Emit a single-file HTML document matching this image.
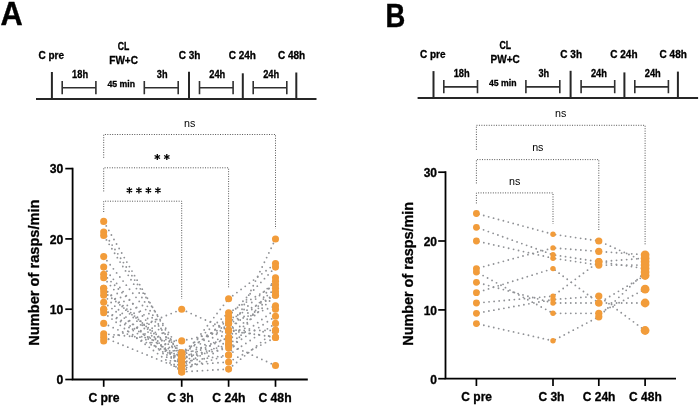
<!DOCTYPE html>
<html><head><meta charset="utf-8"><title>Figure</title>
<style>
html,body{margin:0;padding:0;background:#fff;}
body{width:700px;height:406px;overflow:hidden;font-family:"Liberation Sans",sans-serif;}
svg{display:block;font-family:"Liberation Sans",sans-serif;opacity:0.999;will-change:transform;}
</style></head><body>
<svg width="700" height="406" viewBox="0 0 700 406">
<rect width="700" height="406" fill="#fff"/>
<text x="0.6" y="25.1" font-size="32.6" font-weight="bold" text-anchor="start" fill="#000" textLength="22.2" lengthAdjust="spacingAndGlyphs" stroke="#000" stroke-width="0.4">A</text>
<text x="385.6" y="27.1" font-size="32.3" font-weight="bold" text-anchor="start" fill="#000" textLength="19.8" lengthAdjust="spacingAndGlyphs" stroke="#000" stroke-width="0.4">B</text>
<line x1="36" y1="99.00" x2="316.5" y2="99.00" stroke="#262626" stroke-width="2.0"/>
<line x1="51.90" y1="72.00" x2="51.90" y2="99.00" stroke="#262626" stroke-width="2.0"/>
<line x1="189.00" y1="71.70" x2="189.00" y2="99.00" stroke="#262626" stroke-width="2.0"/>
<line x1="242.80" y1="73.30" x2="242.80" y2="99.00" stroke="#262626" stroke-width="2.0"/>
<line x1="296.30" y1="72.50" x2="296.30" y2="99.00" stroke="#262626" stroke-width="2.0"/>
<path d="M62.20 80.90V94.20 M62.20 87.80H95.90 M95.90 80.90V94.20" stroke="#303030" stroke-width="1.6" fill="none"/>
<path d="M144.30 80.90V94.20 M144.30 87.80H178.20 M178.20 80.90V94.20" stroke="#303030" stroke-width="1.6" fill="none"/>
<path d="M199.50 80.90V94.20 M199.50 87.80H233.10 M233.10 80.90V94.20" stroke="#303030" stroke-width="1.6" fill="none"/>
<path d="M253.20 80.90V94.20 M253.20 87.80H286.80 M286.80 80.90V94.20" stroke="#303030" stroke-width="1.6" fill="none"/>
<g stroke="#000" stroke-width="0.3">
<text x="51.2" y="59.1" font-size="10" font-weight="bold" text-anchor="middle" fill="#000">C pre</text>
<text x="123.6" y="49.7" font-size="10" font-weight="bold" text-anchor="middle" fill="#000" textLength="11.6" lengthAdjust="spacingAndGlyphs">CL</text>
<text x="123.6" y="64.2" font-size="10" font-weight="bold" text-anchor="middle" fill="#000">FW+C</text>
<text x="189.6" y="59.1" font-size="10" font-weight="bold" text-anchor="middle" fill="#000">C 3h</text>
<text x="242.3" y="59.1" font-size="10" font-weight="bold" text-anchor="middle" fill="#000">C 24h</text>
<text x="291.6" y="59.1" font-size="10" font-weight="bold" text-anchor="middle" fill="#000">C 48h</text>
<text x="80.1" y="77.6" font-size="10.0" font-weight="bold" text-anchor="middle" fill="#000" textLength="16.0" lengthAdjust="spacingAndGlyphs">18h</text>
<text x="121.2" y="87.1" font-size="9.2" font-weight="bold" text-anchor="middle" fill="#000" textLength="27.6" lengthAdjust="spacingAndGlyphs">45 min</text>
<text x="162.2" y="77.6" font-size="10.0" font-weight="bold" text-anchor="middle" fill="#000" textLength="10.7" lengthAdjust="spacingAndGlyphs">3h</text>
<text x="217.3" y="77.6" font-size="10.0" font-weight="bold" text-anchor="middle" fill="#000" textLength="16.0" lengthAdjust="spacingAndGlyphs">24h</text>
<text x="271.2" y="77.6" font-size="10.0" font-weight="bold" text-anchor="middle" fill="#000" textLength="16.0" lengthAdjust="spacingAndGlyphs">24h</text>
</g>
<line x1="417.6" y1="98.10" x2="698.1" y2="98.10" stroke="#262626" stroke-width="2.0"/>
<line x1="433.50" y1="71.10" x2="433.50" y2="98.10" stroke="#262626" stroke-width="2.0"/>
<line x1="570.60" y1="70.80" x2="570.60" y2="98.10" stroke="#262626" stroke-width="2.0"/>
<line x1="624.40" y1="72.40" x2="624.40" y2="98.10" stroke="#262626" stroke-width="2.0"/>
<line x1="677.90" y1="71.60" x2="677.90" y2="98.10" stroke="#262626" stroke-width="2.0"/>
<path d="M443.80 80.00V93.30 M443.80 86.90H477.50 M477.50 80.00V93.30" stroke="#303030" stroke-width="1.6" fill="none"/>
<path d="M525.90 80.00V93.30 M525.90 86.90H559.80 M559.80 80.00V93.30" stroke="#303030" stroke-width="1.6" fill="none"/>
<path d="M581.10 80.00V93.30 M581.10 86.90H614.70 M614.70 80.00V93.30" stroke="#303030" stroke-width="1.6" fill="none"/>
<path d="M634.80 80.00V93.30 M634.80 86.90H668.40 M668.40 80.00V93.30" stroke="#303030" stroke-width="1.6" fill="none"/>
<g stroke="#000" stroke-width="0.3">
<text x="432.8" y="58.300000000000004" font-size="10" font-weight="bold" text-anchor="middle" fill="#000">C pre</text>
<text x="505.20000000000005" y="48.900000000000006" font-size="10" font-weight="bold" text-anchor="middle" fill="#000" textLength="11.6" lengthAdjust="spacingAndGlyphs">CL</text>
<text x="505.20000000000005" y="63.400000000000006" font-size="10" font-weight="bold" text-anchor="middle" fill="#000">PW+C</text>
<text x="571.2" y="58.300000000000004" font-size="10" font-weight="bold" text-anchor="middle" fill="#000">C 3h</text>
<text x="623.9000000000001" y="58.300000000000004" font-size="10" font-weight="bold" text-anchor="middle" fill="#000">C 24h</text>
<text x="673.2" y="58.300000000000004" font-size="10" font-weight="bold" text-anchor="middle" fill="#000">C 48h</text>
<text x="461.70000000000005" y="76.69999999999999" font-size="10.0" font-weight="bold" text-anchor="middle" fill="#000" textLength="16.0" lengthAdjust="spacingAndGlyphs">18h</text>
<text x="502.8" y="86.19999999999999" font-size="9.2" font-weight="bold" text-anchor="middle" fill="#000" textLength="27.6" lengthAdjust="spacingAndGlyphs">45 min</text>
<text x="543.8" y="76.69999999999999" font-size="10.0" font-weight="bold" text-anchor="middle" fill="#000" textLength="10.7" lengthAdjust="spacingAndGlyphs">3h</text>
<text x="598.9000000000001" y="76.69999999999999" font-size="10.0" font-weight="bold" text-anchor="middle" fill="#000" textLength="16.0" lengthAdjust="spacingAndGlyphs">24h</text>
<text x="652.8" y="76.69999999999999" font-size="10.0" font-weight="bold" text-anchor="middle" fill="#000" textLength="16.0" lengthAdjust="spacingAndGlyphs">24h</text>
</g>
<g stroke="#444" stroke-width="0.95" stroke-dasharray="0.95 1.5" fill="none">
<path d="M103.7 157.8V134.5H275.5V228.7"/>
<path d="M103.7 191.4V167.8H228.6V288.5"/>
<path d="M103.7 212.0V201.2H181.7V299.0"/>
</g>
<text x="189.7" y="126.8" font-size="10.7" font-weight="normal" text-anchor="middle" fill="#000">ns</text>
<path transform="translate(157.3 157.0)" d="M0 -3.1V3.1M-2.7 -1.55L2.7 1.55M-2.7 1.55L2.7 -1.55" stroke="#000" stroke-width="1.3" fill="none"/>
<path transform="translate(166.8 157.0)" d="M0 -3.1V3.1M-2.7 -1.55L2.7 1.55M-2.7 1.55L2.7 -1.55" stroke="#000" stroke-width="1.3" fill="none"/>
<path transform="translate(129.4 190.3)" d="M0 -3.1V3.1M-2.7 -1.55L2.7 1.55M-2.7 1.55L2.7 -1.55" stroke="#000" stroke-width="1.3" fill="none"/>
<path transform="translate(138.9 190.3)" d="M0 -3.1V3.1M-2.7 -1.55L2.7 1.55M-2.7 1.55L2.7 -1.55" stroke="#000" stroke-width="1.3" fill="none"/>
<path transform="translate(148.4 190.3)" d="M0 -3.1V3.1M-2.7 -1.55L2.7 1.55M-2.7 1.55L2.7 -1.55" stroke="#000" stroke-width="1.3" fill="none"/>
<path transform="translate(157.9 190.3)" d="M0 -3.1V3.1M-2.7 -1.55L2.7 1.55M-2.7 1.55L2.7 -1.55" stroke="#000" stroke-width="1.3" fill="none"/>
<g stroke="#909296" stroke-width="1.85" stroke-linecap="round" stroke-dasharray="0 5.2" stroke-dashoffset="0" fill="none">
<line x1="103.7" y1="221.4" x2="181.7" y2="358.5"/>
<line x1="181.7" y1="358.5" x2="228.6" y2="298.8"/>
<line x1="228.6" y1="298.8" x2="275.5" y2="263.6"/>
<line x1="103.7" y1="232.0" x2="181.7" y2="352.9"/>
<line x1="181.7" y1="352.9" x2="228.6" y2="312.8"/>
<line x1="228.6" y1="312.8" x2="275.5" y2="284.7"/>
<line x1="103.7" y1="235.5" x2="181.7" y2="362.0"/>
<line x1="181.7" y1="362.0" x2="228.6" y2="316.3"/>
<line x1="228.6" y1="316.3" x2="275.5" y2="267.1"/>
<line x1="103.7" y1="256.6" x2="181.7" y2="355.0"/>
<line x1="181.7" y1="355.0" x2="228.6" y2="319.8"/>
<line x1="228.6" y1="319.8" x2="275.5" y2="295.2"/>
<line x1="103.7" y1="267.1" x2="181.7" y2="365.5"/>
<line x1="181.7" y1="365.5" x2="228.6" y2="323.4"/>
<line x1="228.6" y1="323.4" x2="275.5" y2="281.2"/>
<line x1="103.7" y1="274.2" x2="181.7" y2="352.9"/>
<line x1="181.7" y1="352.9" x2="228.6" y2="323.4"/>
<line x1="228.6" y1="323.4" x2="275.5" y2="305.8"/>
<line x1="103.7" y1="277.7" x2="181.7" y2="369.1"/>
<line x1="181.7" y1="369.1" x2="228.6" y2="330.4"/>
<line x1="228.6" y1="330.4" x2="275.5" y2="288.2"/>
<line x1="103.7" y1="288.2" x2="181.7" y2="358.5"/>
<line x1="181.7" y1="358.5" x2="228.6" y2="337.4"/>
<line x1="228.6" y1="337.4" x2="275.5" y2="239.0"/>
<line x1="103.7" y1="288.2" x2="181.7" y2="365.5"/>
<line x1="181.7" y1="365.5" x2="228.6" y2="340.9"/>
<line x1="228.6" y1="340.9" x2="275.5" y2="295.2"/>
<line x1="103.7" y1="291.7" x2="181.7" y2="355.0"/>
<line x1="181.7" y1="355.0" x2="228.6" y2="337.4"/>
<line x1="228.6" y1="337.4" x2="275.5" y2="291.7"/>
<line x1="103.7" y1="295.2" x2="181.7" y2="371.9"/>
<line x1="181.7" y1="371.9" x2="228.6" y2="344.5"/>
<line x1="228.6" y1="344.5" x2="275.5" y2="309.3"/>
<line x1="103.7" y1="302.3" x2="181.7" y2="362.0"/>
<line x1="181.7" y1="362.0" x2="228.6" y2="355.0"/>
<line x1="228.6" y1="355.0" x2="275.5" y2="277.7"/>
<line x1="103.7" y1="309.3" x2="181.7" y2="358.5"/>
<line x1="181.7" y1="358.5" x2="228.6" y2="348.0"/>
<line x1="228.6" y1="348.0" x2="275.5" y2="316.3"/>
<line x1="103.7" y1="312.8" x2="181.7" y2="371.9"/>
<line x1="181.7" y1="371.9" x2="228.6" y2="369.1"/>
<line x1="228.6" y1="369.1" x2="275.5" y2="330.4"/>
<line x1="103.7" y1="323.4" x2="181.7" y2="358.5"/>
<line x1="181.7" y1="358.5" x2="228.6" y2="344.5"/>
<line x1="228.6" y1="344.5" x2="275.5" y2="365.5"/>
<line x1="103.7" y1="333.9" x2="181.7" y2="340.9"/>
<line x1="181.7" y1="340.9" x2="228.6" y2="330.4"/>
<line x1="228.6" y1="330.4" x2="275.5" y2="330.4"/>
<line x1="103.7" y1="337.4" x2="181.7" y2="369.1"/>
<line x1="181.7" y1="369.1" x2="228.6" y2="355.0"/>
<line x1="228.6" y1="355.0" x2="275.5" y2="323.4"/>
<line x1="103.7" y1="340.9" x2="181.7" y2="309.3"/>
<line x1="181.7" y1="309.3" x2="228.6" y2="330.4"/>
<line x1="228.6" y1="330.4" x2="275.5" y2="337.4"/>
<line x1="103.7" y1="309.3" x2="181.7" y2="365.5"/>
<line x1="181.7" y1="365.5" x2="228.6" y2="362.0"/>
<line x1="228.6" y1="362.0" x2="275.5" y2="337.4"/>
</g>
<g fill="#F29C3A">
<circle cx="103.7" cy="221.4" r="3.55"/>
<circle cx="181.7" cy="358.5" r="3.55"/>
<circle cx="228.6" cy="298.8" r="3.55"/>
<circle cx="275.5" cy="263.6" r="3.55"/>
<circle cx="103.7" cy="232.0" r="3.55"/>
<circle cx="181.7" cy="352.9" r="3.55"/>
<circle cx="228.6" cy="312.8" r="3.55"/>
<circle cx="275.5" cy="284.7" r="3.55"/>
<circle cx="103.7" cy="235.5" r="3.55"/>
<circle cx="181.7" cy="362.0" r="3.55"/>
<circle cx="228.6" cy="316.3" r="3.55"/>
<circle cx="275.5" cy="267.1" r="3.55"/>
<circle cx="103.7" cy="256.6" r="3.55"/>
<circle cx="181.7" cy="355.0" r="3.55"/>
<circle cx="228.6" cy="319.8" r="3.55"/>
<circle cx="275.5" cy="295.2" r="3.55"/>
<circle cx="103.7" cy="267.1" r="3.55"/>
<circle cx="181.7" cy="365.5" r="3.55"/>
<circle cx="228.6" cy="323.4" r="3.55"/>
<circle cx="275.5" cy="281.2" r="3.55"/>
<circle cx="103.7" cy="274.2" r="3.55"/>
<circle cx="181.7" cy="352.9" r="3.55"/>
<circle cx="228.6" cy="323.4" r="3.55"/>
<circle cx="275.5" cy="305.8" r="3.55"/>
<circle cx="103.7" cy="277.7" r="3.55"/>
<circle cx="181.7" cy="369.1" r="3.55"/>
<circle cx="228.6" cy="330.4" r="3.55"/>
<circle cx="275.5" cy="288.2" r="3.55"/>
<circle cx="103.7" cy="288.2" r="3.55"/>
<circle cx="181.7" cy="358.5" r="3.55"/>
<circle cx="228.6" cy="337.4" r="3.55"/>
<circle cx="275.5" cy="239.0" r="3.55"/>
<circle cx="103.7" cy="288.2" r="3.55"/>
<circle cx="181.7" cy="365.5" r="3.55"/>
<circle cx="228.6" cy="340.9" r="3.55"/>
<circle cx="275.5" cy="295.2" r="3.55"/>
<circle cx="103.7" cy="291.7" r="3.55"/>
<circle cx="181.7" cy="355.0" r="3.55"/>
<circle cx="228.6" cy="337.4" r="3.55"/>
<circle cx="275.5" cy="291.7" r="3.55"/>
<circle cx="103.7" cy="295.2" r="3.55"/>
<circle cx="181.7" cy="371.9" r="3.55"/>
<circle cx="228.6" cy="344.5" r="3.55"/>
<circle cx="275.5" cy="309.3" r="3.55"/>
<circle cx="103.7" cy="302.3" r="3.55"/>
<circle cx="181.7" cy="362.0" r="3.55"/>
<circle cx="228.6" cy="355.0" r="3.55"/>
<circle cx="275.5" cy="277.7" r="3.55"/>
<circle cx="103.7" cy="309.3" r="3.55"/>
<circle cx="181.7" cy="358.5" r="3.55"/>
<circle cx="228.6" cy="348.0" r="3.55"/>
<circle cx="275.5" cy="316.3" r="3.55"/>
<circle cx="103.7" cy="312.8" r="3.55"/>
<circle cx="181.7" cy="371.9" r="3.55"/>
<circle cx="228.6" cy="369.1" r="3.55"/>
<circle cx="275.5" cy="330.4" r="3.55"/>
<circle cx="103.7" cy="323.4" r="3.55"/>
<circle cx="181.7" cy="358.5" r="3.55"/>
<circle cx="228.6" cy="344.5" r="3.55"/>
<circle cx="275.5" cy="365.5" r="3.55"/>
<circle cx="103.7" cy="333.9" r="3.55"/>
<circle cx="181.7" cy="340.9" r="3.55"/>
<circle cx="228.6" cy="330.4" r="3.55"/>
<circle cx="275.5" cy="330.4" r="3.55"/>
<circle cx="103.7" cy="337.4" r="3.55"/>
<circle cx="181.7" cy="369.1" r="3.55"/>
<circle cx="228.6" cy="355.0" r="3.55"/>
<circle cx="275.5" cy="323.4" r="3.55"/>
<circle cx="103.7" cy="340.9" r="3.55"/>
<circle cx="181.7" cy="309.3" r="3.55"/>
<circle cx="228.6" cy="330.4" r="3.55"/>
<circle cx="275.5" cy="337.4" r="3.55"/>
<circle cx="103.7" cy="309.3" r="3.55"/>
<circle cx="181.7" cy="365.5" r="3.55"/>
<circle cx="228.6" cy="362.0" r="3.55"/>
<circle cx="275.5" cy="337.4" r="3.55"/>
</g>
<g stroke="#000" stroke-width="0.3">
<path d="M72.6 167.75V379.5H307.8" stroke="#000" stroke-width="1.8" fill="none" stroke-linejoin="miter" stroke-linecap="butt"/>
<line x1="65.3" y1="379.5" x2="72.6" y2="379.5" stroke="#000" stroke-width="1.7"/>
<text x="63.4" y="384.392" font-size="12.2" font-weight="bold" text-anchor="end" fill="#000">0</text>
<line x1="65.3" y1="309.2" x2="72.6" y2="309.2" stroke="#000" stroke-width="1.7"/>
<text x="63.4" y="314.092" font-size="12.2" font-weight="bold" text-anchor="end" fill="#000">10</text>
<line x1="65.3" y1="238.9" x2="72.6" y2="238.9" stroke="#000" stroke-width="1.7"/>
<text x="63.4" y="243.792" font-size="12.2" font-weight="bold" text-anchor="end" fill="#000">20</text>
<line x1="65.3" y1="168.6" x2="72.6" y2="168.6" stroke="#000" stroke-width="1.7"/>
<text x="63.4" y="173.492" font-size="12.2" font-weight="bold" text-anchor="end" fill="#000">30</text>
<line x1="103.7" y1="379.5" x2="103.7" y2="386.8" stroke="#000" stroke-width="1.7"/>
<text x="104.0" y="401.5" font-size="12.2" font-weight="bold" text-anchor="middle" fill="#000">C pre</text>
<line x1="181.7" y1="379.5" x2="181.7" y2="386.8" stroke="#000" stroke-width="1.7"/>
<text x="180.5" y="401.5" font-size="12.2" font-weight="bold" text-anchor="middle" fill="#000">C 3h</text>
<line x1="228.6" y1="379.5" x2="228.6" y2="386.8" stroke="#000" stroke-width="1.7"/>
<text x="228.9" y="401.5" font-size="12.2" font-weight="bold" text-anchor="middle" fill="#000">C 24h</text>
<line x1="275.5" y1="379.5" x2="275.5" y2="386.8" stroke="#000" stroke-width="1.7"/>
<text x="275.0" y="401.5" font-size="12.2" font-weight="bold" text-anchor="middle" fill="#000">C 48h</text>
<text transform="translate(38.8 272.6) rotate(-90)" font-size="15.2" font-weight="bold" text-anchor="middle" textLength="146.2" lengthAdjust="spacingAndGlyphs">Number of rasps/min</text>
</g>
<g stroke="#444" stroke-width="0.95" stroke-dasharray="0.95 1.5" fill="none">
<path d="M476.4 149.7V125.3H645.1V244.5"/>
<path d="M476.4 183.4V159.6H598.8V230.7"/>
<path d="M476.4 203.4V192.9H553.0V223.9"/>
</g>
<text x="560.7" y="117.1" font-size="10.7" font-weight="normal" text-anchor="middle" fill="#000">ns</text>
<text x="537.8" y="151.1" font-size="10.7" font-weight="normal" text-anchor="middle" fill="#000">ns</text>
<text x="514.6" y="185.2" font-size="10.7" font-weight="normal" text-anchor="middle" fill="#000">ns</text>
<g stroke="#909296" stroke-width="1.85" stroke-linecap="round" stroke-dasharray="0 5.08" stroke-dashoffset="2.54" fill="none">
<line x1="476.4" y1="213.5" x2="553.0" y2="234.2"/>
<line x1="553.0" y1="234.2" x2="598.8" y2="241.0"/>
<line x1="598.8" y1="241.0" x2="645.1" y2="261.7"/>
<line x1="476.4" y1="227.3" x2="553.0" y2="254.8"/>
<line x1="553.0" y1="254.8" x2="598.8" y2="261.7"/>
<line x1="598.8" y1="261.7" x2="645.1" y2="258.2"/>
<line x1="476.4" y1="241.0" x2="553.0" y2="258.2"/>
<line x1="553.0" y1="258.2" x2="598.8" y2="265.1"/>
<line x1="598.8" y1="265.1" x2="645.1" y2="265.1"/>
<line x1="476.4" y1="268.6" x2="553.0" y2="247.9"/>
<line x1="553.0" y1="247.9" x2="598.8" y2="251.4"/>
<line x1="598.8" y1="251.4" x2="645.1" y2="254.8"/>
<line x1="476.4" y1="272.0" x2="553.0" y2="313.3"/>
<line x1="553.0" y1="313.3" x2="598.8" y2="313.3"/>
<line x1="598.8" y1="313.3" x2="645.1" y2="289.2"/>
<line x1="476.4" y1="282.3" x2="553.0" y2="303.0"/>
<line x1="553.0" y1="303.0" x2="598.8" y2="303.0"/>
<line x1="598.8" y1="303.0" x2="645.1" y2="303.0"/>
<line x1="476.4" y1="292.7" x2="553.0" y2="268.6"/>
<line x1="553.0" y1="268.6" x2="598.8" y2="303.0"/>
<line x1="598.8" y1="303.0" x2="645.1" y2="275.5"/>
<line x1="476.4" y1="303.0" x2="553.0" y2="296.1"/>
<line x1="553.0" y1="296.1" x2="598.8" y2="261.7"/>
<line x1="598.8" y1="261.7" x2="645.1" y2="268.6"/>
<line x1="476.4" y1="313.3" x2="553.0" y2="299.5"/>
<line x1="553.0" y1="299.5" x2="598.8" y2="296.1"/>
<line x1="598.8" y1="296.1" x2="645.1" y2="330.5"/>
<line x1="476.4" y1="323.6" x2="553.0" y2="340.8"/>
<line x1="553.0" y1="340.8" x2="598.8" y2="316.8"/>
<line x1="598.8" y1="316.8" x2="645.1" y2="272.0"/>
</g>
<g fill="#F29C3A">
<circle cx="476.4" cy="213.5" r="3.4"/>
<circle cx="553.0" cy="234.2" r="2.7"/>
<circle cx="598.8" cy="241.0" r="3.6"/>
<circle cx="645.1" cy="261.7" r="4.4"/>
<circle cx="476.4" cy="227.3" r="3.4"/>
<circle cx="553.0" cy="254.8" r="2.7"/>
<circle cx="598.8" cy="261.7" r="3.6"/>
<circle cx="645.1" cy="258.2" r="4.4"/>
<circle cx="476.4" cy="241.0" r="3.4"/>
<circle cx="553.0" cy="258.2" r="2.7"/>
<circle cx="598.8" cy="265.1" r="3.6"/>
<circle cx="645.1" cy="265.1" r="4.4"/>
<circle cx="476.4" cy="268.6" r="3.4"/>
<circle cx="553.0" cy="247.9" r="2.7"/>
<circle cx="598.8" cy="251.4" r="3.6"/>
<circle cx="645.1" cy="254.8" r="4.4"/>
<circle cx="476.4" cy="272.0" r="3.4"/>
<circle cx="553.0" cy="313.3" r="2.7"/>
<circle cx="598.8" cy="313.3" r="3.6"/>
<circle cx="645.1" cy="289.2" r="4.4"/>
<circle cx="476.4" cy="282.3" r="3.4"/>
<circle cx="553.0" cy="303.0" r="2.7"/>
<circle cx="598.8" cy="303.0" r="3.6"/>
<circle cx="645.1" cy="303.0" r="4.4"/>
<circle cx="476.4" cy="292.7" r="3.4"/>
<circle cx="553.0" cy="268.6" r="2.7"/>
<circle cx="598.8" cy="303.0" r="3.6"/>
<circle cx="645.1" cy="275.5" r="4.4"/>
<circle cx="476.4" cy="303.0" r="3.4"/>
<circle cx="553.0" cy="296.1" r="2.7"/>
<circle cx="598.8" cy="261.7" r="3.6"/>
<circle cx="645.1" cy="268.6" r="4.4"/>
<circle cx="476.4" cy="313.3" r="3.4"/>
<circle cx="553.0" cy="299.5" r="2.7"/>
<circle cx="598.8" cy="296.1" r="3.6"/>
<circle cx="645.1" cy="330.5" r="4.4"/>
<circle cx="476.4" cy="323.6" r="3.4"/>
<circle cx="553.0" cy="340.8" r="2.7"/>
<circle cx="598.8" cy="316.8" r="3.6"/>
<circle cx="645.1" cy="272.0" r="4.4"/>
</g>
<g stroke="#000" stroke-width="0.3">
<path d="M445.5 171.36V378.7H676.0" stroke="#000" stroke-width="1.8" fill="none" stroke-linejoin="miter" stroke-linecap="butt"/>
<line x1="438.2" y1="378.7" x2="445.5" y2="378.7" stroke="#000" stroke-width="1.7"/>
<text x="437.0" y="383.52" font-size="12.0" font-weight="bold" text-anchor="end" fill="#000">0</text>
<line x1="438.2" y1="309.9" x2="445.5" y2="309.9" stroke="#000" stroke-width="1.7"/>
<text x="437.0" y="314.69" font-size="12.0" font-weight="bold" text-anchor="end" fill="#000">10</text>
<line x1="438.2" y1="241.0" x2="445.5" y2="241.0" stroke="#000" stroke-width="1.7"/>
<text x="437.0" y="245.85999999999999" font-size="12.0" font-weight="bold" text-anchor="end" fill="#000">20</text>
<line x1="438.2" y1="172.2" x2="445.5" y2="172.2" stroke="#000" stroke-width="1.7"/>
<text x="437.0" y="177.02999999999997" font-size="12.0" font-weight="bold" text-anchor="end" fill="#000">30</text>
<line x1="476.4" y1="378.7" x2="476.4" y2="386.0" stroke="#000" stroke-width="1.7"/>
<text x="476.7" y="401.0" font-size="12.0" font-weight="bold" text-anchor="middle" fill="#000">C pre</text>
<line x1="553.0" y1="378.7" x2="553.0" y2="386.0" stroke="#000" stroke-width="1.7"/>
<text x="551.4" y="401.0" font-size="12.0" font-weight="bold" text-anchor="middle" fill="#000">C 3h</text>
<line x1="598.8" y1="378.7" x2="598.8" y2="386.0" stroke="#000" stroke-width="1.7"/>
<text x="599.0999999999999" y="401.0" font-size="12.0" font-weight="bold" text-anchor="middle" fill="#000">C 24h</text>
<line x1="645.1" y1="378.7" x2="645.1" y2="386.0" stroke="#000" stroke-width="1.7"/>
<text x="645.4" y="401.0" font-size="12.0" font-weight="bold" text-anchor="middle" fill="#000">C 48h</text>
<text transform="translate(413.2 273.8) rotate(-90)" font-size="14.9" font-weight="bold" text-anchor="middle" textLength="143.8" lengthAdjust="spacingAndGlyphs">Number of rasps/min</text>
</g>
</svg></body></html>
